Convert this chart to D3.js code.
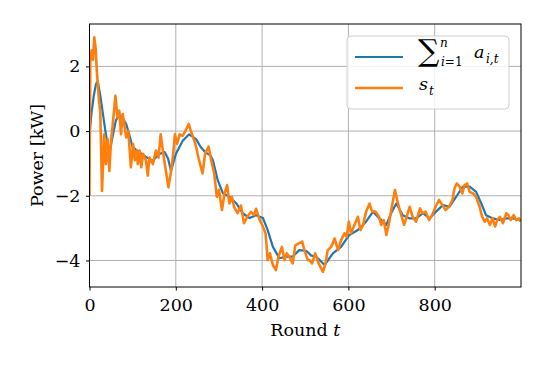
<!DOCTYPE html>
<html>
<head>
<meta charset="utf-8">
<script src="https://cdn.jsdelivr.net/npm/d3@7"></script>
<style>
  body { margin: 0; background: #fff; }
  svg text { font-family: "DejaVu Serif", "Liberation Serif", serif; fill: #000; }
</style>
</head>
<body>
<div id="chart"></div>
<script>
// data
const xTicks = [0, 200, 400, 600, 800];
const yTicks = [-4, -2, 0, 2];

// sum of agent powers (blue)
const sumT = [0, 5, 10, 15, 19, 25, 30, 38, 46, 53, 61, 69, 77, 85, 92, 100, 115, 131, 146, 162, 174, 182, 189, 200,
  216, 231, 247, 258, 268, 280, 286, 297, 309, 324, 340, 355, 371, 386, 402, 413, 425, 440, 456, 471, 486, 502,
  514, 525, 545, 564, 583, 602, 622, 641, 657, 672, 688, 699, 711, 726, 742, 757, 773, 788, 803, 819, 834, 850,
  865, 881, 896, 908, 919, 935, 950, 966, 981, 999];
const sumV = [-0.1, 0.6, 1.1, 1.45, 1.55, 1.1, 0.63, -0.1, -0.7, -0.2, 0.32, 0.53, 0.4, 0.22, -0.1, -0.5, -0.65, -0.8,
  -0.92, -0.71, -0.65, -0.85, -1.23, -0.71, -0.3, -0.1, -0.25, -0.5, -0.65, -0.75, -0.9, -1.51, -1.92, -2.03, -2.23,
  -2.54, -2.69, -2.6, -2.69, -3.06, -3.58, -3.93, -3.88, -3.88, -3.68, -3.7, -3.85, -3.88, -4.14, -3.78, -3.58,
  -3.21, -3.06, -2.8, -2.49, -2.7, -2.9, -2.54, -2.24, -2.6, -2.7, -2.7, -2.54, -2.7, -2.49, -2.29, -2.34, -2.03,
  -1.72, -1.72, -1.88, -2.24, -2.6, -2.7, -2.75, -2.7, -2.7, -2.75];

// signal s_t (orange)
const sigT = [0, 1, 2, 5, 8, 11, 14, 17, 22, 25, 29, 34, 38, 42, 46, 50, 54, 60, 65, 69, 73, 77, 85, 90, 96, 101, 105,
  109, 112, 116, 120, 124, 131, 135, 139, 147, 154, 160, 165, 170, 177, 183, 188, 194, 198, 203, 209, 216, 222, 230,
  235, 243, 247, 253, 262, 268, 276, 282, 289, 295, 300, 307, 313, 319, 324, 330, 335, 343, 351, 358, 366, 374, 381,
  386, 393, 402, 408, 413, 418, 425, 432, 438, 446, 452, 457, 463, 471, 477, 485, 493, 498, 506, 510, 516, 523, 531,
  541, 547, 552, 560, 568, 576, 583, 591, 596, 601, 606, 614, 622, 628, 634, 641, 649, 655, 663, 671, 676, 682, 688,
  694, 702, 708, 713, 719, 729, 735, 742, 749, 757, 766, 771, 779, 787, 794, 802, 810, 818, 825, 833, 841, 846, 851,
  858, 864, 869, 875, 881, 889, 896, 904, 910, 916, 921, 928, 934, 940, 945, 951, 958, 966, 971, 976, 983, 989, 995, 999];
const sigV = [-2.0, 0.5, 2.3, 2.5, 2.2, 2.9, 2.6, 1.86, 0.94, 0.6, -1.85, -0.1, -1.02, -0.25, -1.23, -0.3, 0.22, 1.09,
  0.42, 0.63, -0.1, 0.53, -0.2, 0, -1.12, -0.4, -0.9, -0.6, -1.02, -0.6, -1.12, -0.7, -0.92, -1.38, -0.82, -1.02, -0.6,
  -0.82, -0.1, -0.6, -1.23, -1.74, -1.33, -0.7, -0.1, -0.4, -0.1, -0.15, 0, 0.22, 0, -0.3, -0.48, -0.85, -1.31, -0.69,
  -0.48, -0.9, -1.31, -2.03, -1.82, -2.44, -1.92, -1.67, -2.24, -2.03, -2.34, -2.54, -2.3, -2.85, -2.64, -2.5, -2.6,
  -2.4, -2.7, -2.96, -3.16, -3.99, -3.78, -4.14, -4.3, -3.88, -3.58, -3.99, -3.78, -3.88, -4.09, -3.53, -3.47, -3.42,
  -3.68, -3.99, -3.99, -4.09, -3.78, -4.09, -4.35, -4.09, -3.68, -3.58, -3.32, -3.68, -3.37, -3.16, -3.27, -2.8, -3.16,
  -2.9, -2.65, -3.06, -2.9, -2.49, -2.24, -2.49, -2.49, -2.65, -2.9, -2.75, -3.21, -2.85, -2.24, -1.82, -2.13, -2.44,
  -2.9, -2.65, -2.34, -2.65, -2.8, -2.39, -2.54, -2.49, -2.75, -2.6, -2.34, -2.13, -2.29, -2.44, -2.34, -2.13, -1.77,
  -1.62, -1.72, -1.93, -1.67, -1.62, -1.88, -1.93, -2.03, -2.34, -2.65, -2.8, -2.7, -2.9, -2.7, -2.95, -2.75, -2.65,
  -2.85, -2.54, -2.6, -2.75, -2.6, -2.75, -2.7, -2.8];

const W = 548, H = 366;
const plot = { left: 89.5, right: 521, top: 24, bottom: 287 };
const fs = 17.5;

const svg = d3.select("#chart").append("svg")
  .attr("width", W).attr("height", H);

const x = d3.scaleLinear().domain([0, 1000]).range([plot.left, plot.right]);
const y = d3.scaleLinear().domain([-4.82, 3.31]).range([plot.bottom, plot.top]);

// grid
const grid = svg.append("g").attr("stroke", "#b0b0b0").attr("stroke-width", 1);
xTicks.forEach(t => grid.append("line")
  .attr("x1", x(t)).attr("x2", x(t)).attr("y1", plot.top).attr("y2", plot.bottom));
yTicks.forEach(t => grid.append("line")
  .attr("x1", plot.left).attr("x2", plot.right).attr("y1", y(t)).attr("y2", y(t)));

// lines
svg.append("clipPath").attr("id", "clip").append("rect")
  .attr("x", plot.left).attr("y", plot.top)
  .attr("width", plot.right - plot.left).attr("height", plot.bottom - plot.top);

const line = d3.line().x(d => x(d[0])).y(d => y(d[1]));

svg.append("path")
  .datum(sumT.map((t, i) => [t, sumV[i]]))
  .attr("clip-path", "url(#clip)")
  .attr("d", line)
  .attr("fill", "none")
  .attr("stroke", "#1f77b4")
  .attr("stroke-width", 2.2)
  .attr("stroke-linejoin", "round");

svg.append("path")
  .datum(sigT.map((t, i) => [t, sigV[i]]))
  .attr("clip-path", "url(#clip)")
  .attr("d", line)
  .attr("fill", "none")
  .attr("stroke", "#ff7f0e")
  .attr("stroke-width", 2.6)
  .attr("stroke-linejoin", "round");

// axes
const xAxis = d3.axisBottom(x).tickValues(xTicks).tickSize(3.5).tickPadding(8.5)
  .tickFormat(d3.format("d"));
const yAxis = d3.axisLeft(y).tickValues(yTicks).tickSize(3.5).tickPadding(5.5)
  .tickFormat(d => d < 0 ? "\u2212" + Math.abs(d) : String(d));

const gx = svg.append("g").attr("transform", `translate(0,${plot.bottom})`).call(xAxis);
const gy = svg.append("g").attr("transform", `translate(${plot.left},0)`).call(yAxis);
[gx, gy].forEach(g => {
  g.attr("font-family", null).attr("font-size", null);
  g.select(".domain").remove();
  g.selectAll("line").attr("stroke", "#000").attr("stroke-width", 1);
  g.selectAll("text").attr("font-size", fs);
});

// frame
svg.append("rect")
  .attr("x", plot.left).attr("y", plot.top)
  .attr("width", plot.right - plot.left).attr("height", plot.bottom - plot.top)
  .attr("fill", "none").attr("stroke", "#000").attr("stroke-width", 1);

// axis labels
const xl = svg.append("text")
  .attr("x", (plot.left + plot.right) / 2).attr("y", 336)
  .attr("text-anchor", "middle").attr("font-size", fs);
xl.append("tspan").text("Round ");
xl.append("tspan").attr("font-style", "italic").text("t");

svg.append("text")
  .attr("transform", `translate(43,${(plot.top + plot.bottom) / 2}) rotate(-90)`)
  .attr("text-anchor", "middle").attr("font-size", fs)
  .text("Power [kW]");

// legend
const lg = svg.append("g");
lg.append("rect")
  .attr("x", 347).attr("y", 36).attr("width", 162).attr("height", 73)
  .attr("rx", 4).attr("fill", "#fff").attr("fill-opacity", 0.8)
  .attr("stroke", "#d0d0d0").attr("stroke-width", 1);

lg.append("line").attr("x1", 355).attr("x2", 403).attr("y1", 57).attr("y2", 57)
  .attr("stroke", "#1f77b4").attr("stroke-width", 2.2);
lg.append("line").attr("x1", 355).attr("x2", 403).attr("y1", 88).attr("y2", 88)
  .attr("stroke", "#ff7f0e").attr("stroke-width", 2.6);

const label = (tx, ty, size, str, italic) => lg.append("text")
  .attr("x", tx).attr("y", ty).attr("font-size", size)
  .attr("font-style", italic ? "italic" : "normal").text(str);

label(418, 61, 30, "\u2211", false);
label(440, 47, 12, "n", true);
const sub = label(441, 66, 12, "i", true);
sub.append("tspan").attr("font-style", "normal").text("=1");
label(474, 58, fs, "a", true);
label(486, 63, 12, "i,t", true);
label(419, 90, fs, "s", true);
label(429, 95, 12, "t", true);
</script>
</body>
</html>
